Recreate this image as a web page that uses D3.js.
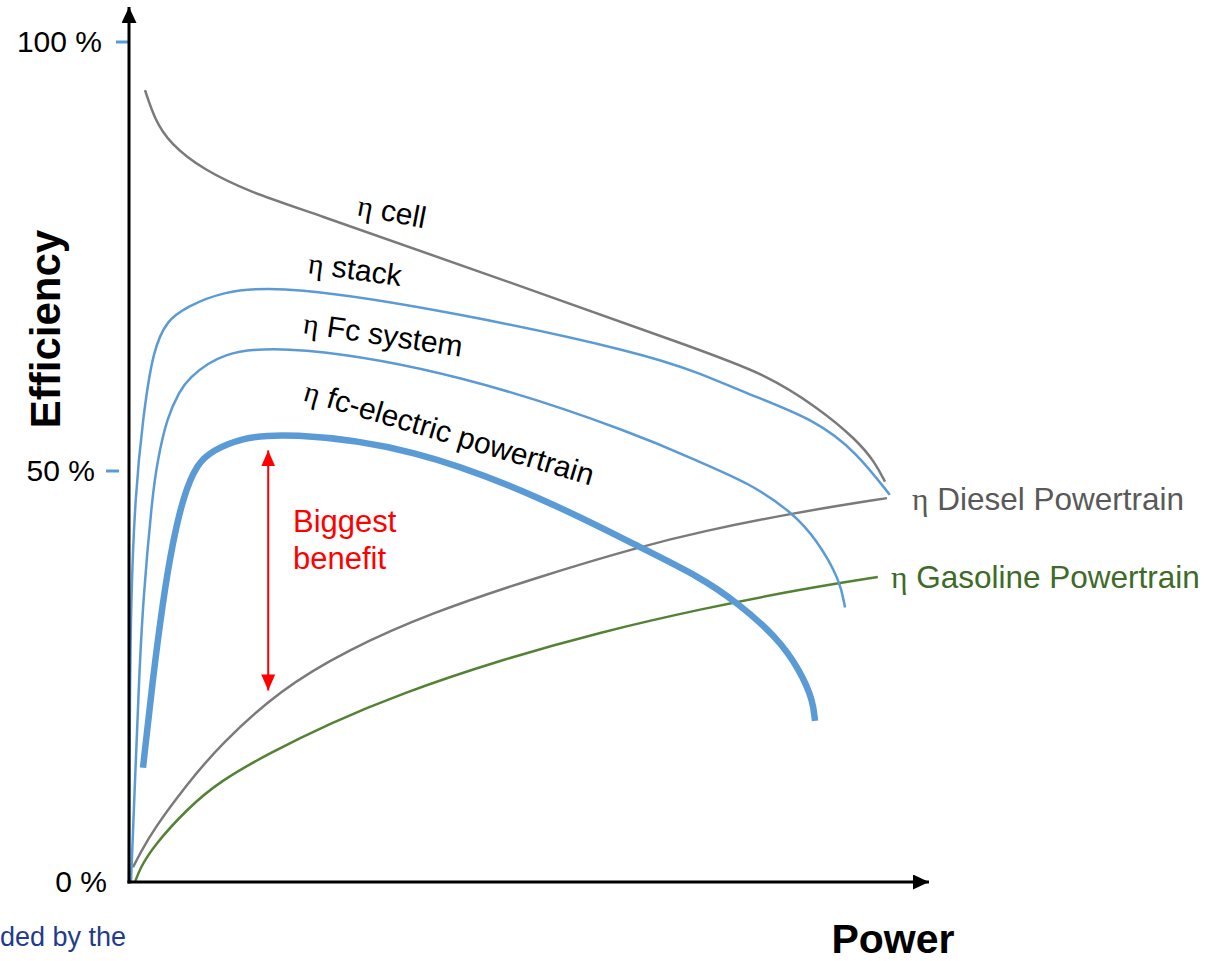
<!DOCTYPE html>
<html>
<head>
<meta charset="utf-8">
<script src="https://cdn.jsdelivr.net/npm/d3@7"></script>
<style>
  body { margin: 0; background: #fff; }
  text { font-family: "Liberation Sans", Arial, sans-serif; }
</style>
</head>
<body>
<div class="chart"></div>
<script>
// curves, [power (0-100), efficiency %]
var cell = [[2.0,94.4],[3.25,90.9],[5.1,88.2],[9.25,85.1],[15.5,82.4],[21,80.7],[46.4,72.4],[71.4,64.1],[79.25,61.4],[86,57.5],[91,53.6],[93.25,51.0],[94.5,48.7]];
var stack = [[0,0],[0.1,22.1],[0.25,34.3],[0.75,46.8],[1.75,56.3],[3,64.1],[4.75,67.6],[7.25,69.1],[11.4,70.9],[19.5,71.7],[41.4,68.4],[63.9,63.8],[71.4,61.4],[76.75,59.2],[86,55.9],[91,52.1],[95.1,47.1]];
var fcSystem = [[0.25,0],[0.75,12.3],[1.25,24.5],[1.75,34.3],[2.9,46.8],[3.5,50.9],[4.75,56.3],[6.4,59.4],[7.25,60.6],[11.4,63.9],[20.1,64.7],[41.4,61.4],[63.9,54.2],[71.4,51.0],[77.6,48.5],[83,44.9],[86,41.6],[88.9,36.7],[89.5,33.4]];
var fcElectric = [[1.75,13.9],[2.9,24.1],[4.25,34.3],[5.4,41.0],[6.75,46.8],[8.5,50.9],[10.5,52.4],[13.9,53.8],[19.5,54.5],[35.5,52.8],[52.25,46.5],[63.9,40.7],[71.4,37.1],[76,34.0],[81,29.8],[83.9,25.7],[85.5,22.1],[85.75,19.6]];
var diesel = [[0.5,1.8],[1.4,3.5],[3,6.3],[7.25,11.9],[11.4,16.7],[18.9,23.4],[27.25,28.2],[37.6,32.7],[51.4,37.2],[63.9,40.8],[71.4,42.6],[83,44.9],[94.75,46.7]];
var gasoline = [[0.75,0],[1.4,1.7],[3,4.3],[7.25,8.9],[11.4,12.3],[17.6,15.7],[25.1,19.3],[33.9,22.9],[46.4,27.0],[58.9,30.4],[71.4,33.2],[83.9,35.6],[93.6,37.1]];

var yTicks = [0, 50, 100];
var yTickLabels = ["0 %", "50 %", "100 %"];
var benefit = {x: 17.4, from: 23.3, to: 52.4};

var width = 1210, height = 961;

var svg = d3.select(".chart")
  .append("svg")
    .attr("width", width)
    .attr("height", height);

var x = d3.scaleLinear().domain([0, 100]).range([129, 929]);
// the drawing is not quite linear: 50 % sits lower than half way
var y = d3.scaleLinear().domain([0, 50, 100]).range([882, 471, 42]);

var blue = "#5b9bd5", grey = "#7a7a7a", green = "#548235";

var defs = svg.append("defs");
function arrowMarker(id, color, w, h) {
  defs.append("marker")
    .attr("id", id)
    .attr("viewBox", "0 0 " + w + " " + h)
    .attr("refX", w).attr("refY", h / 2)
    .attr("markerWidth", w).attr("markerHeight", h)
    .attr("markerUnits", "userSpaceOnUse")
    .attr("orient", "auto-start-reverse")
    .append("path")
      .attr("d", "M0,0L" + w + "," + (h / 2) + "L0," + h + "Z")
      .attr("fill", color);
}
arrowMarker("axisArrow", "#000", 16, 15);
arrowMarker("redArrow", "#ff0000", 16, 14);

// y axis (labels only, line drawn as an arrow)
var yAxis = svg.append("g")
  .attr("transform", "translate(" + x(0) + ",0)")
  .call(d3.axisLeft(y).tickValues(yTicks).tickSize(0).tickPadding(27)
    .tickFormat(function(d, i){ return yTickLabels[i]; }));
yAxis.select(".domain").remove();
yAxis.selectAll("text")
  .attr("font-size", 30)
  .attr("font-family", "Liberation Sans, Arial, sans-serif")
  .attr("fill", "#000")
  .attr("dx", function(d){ return d == 50 ? -7 : (d == 0 ? 5 : 0); });

// little blue tick marks
svg.append("line").attr("x1", x(0) - 13).attr("x2", x(0)).attr("y1", y(100)).attr("y2", y(100))
  .attr("stroke", blue).attr("stroke-width", 3);
svg.append("line").attr("x1", x(0) - 23).attr("x2", x(0) - 10).attr("y1", y(50)).attr("y2", y(50))
  .attr("stroke", blue).attr("stroke-width", 3);

var line = d3.line()
  .x(function(d){ return x(d[0]); })
  .y(function(d){ return y(d[1]); })
  .curve(d3.curveBasis);

var series = [
  {data: cell, color: grey, w: 2.5},
  {data: diesel, color: grey, w: 2.5},
  {data: gasoline, color: green, w: 2.5},
  {data: stack, color: blue, w: 2.5},
  {data: fcSystem, color: blue, w: 2.5},
  {data: fcElectric, color: blue, w: 6.5}
];

svg.append("g")
  .selectAll("path")
  .data(series)
  .join("path")
    .attr("d", function(d){ return line(d.data); })
    .attr("fill", "none")
    .attr("stroke", function(d){ return d.color; })
    .attr("stroke-width", function(d){ return d.w; });

// axes with arrows
svg.append("line")
  .attr("x1", x(0)).attr("y1", y(0) + 1.5).attr("x2", x(0)).attr("y2", 7)
  .attr("stroke", "#000").attr("stroke-width", 3)
  .attr("marker-end", "url(#axisArrow)");
svg.append("line")
  .attr("x1", x(0) - 1.5).attr("y1", y(0)).attr("x2", x(100)).attr("y2", y(0))
  .attr("stroke", "#000").attr("stroke-width", 3)
  .attr("marker-end", "url(#axisArrow)");

// biggest benefit arrow
svg.append("line")
  .attr("x1", x(benefit.x)).attr("x2", x(benefit.x))
  .attr("y1", y(benefit.from)).attr("y2", y(benefit.to))
  .attr("stroke", "#ff0000").attr("stroke-width", 2)
  .attr("marker-start", "url(#redArrow)")
  .attr("marker-end", "url(#redArrow)");

var red = svg.append("text").attr("fill", "#ff0000").attr("font-size", 31);
red.append("tspan").attr("x", 293).attr("y", 532).text("Biggest");
red.append("tspan").attr("x", 293).attr("y", 569).text("benefit");

// curve labels
function etaLabel(txt, tx, ty, rot, color, size) {
  var t = svg.append("text")
    .attr("transform", "translate(" + tx + "," + ty + ") rotate(" + rot + ")")
    .attr("font-size", size)
    .attr("fill", color);
  t.append("tspan").attr("font-family", "Liberation Serif, Times New Roman, serif").text("\u03b7");
  t.append("tspan").text(" " + txt);
}
etaLabel("cell", 356, 215, 11, "#000", 30);
etaLabel("stack", 307, 273, 8, "#000", 30);
etaLabel("Fc system", 302, 333, 8.5, "#000", 30);
etaLabel("fc-electric powertrain", 302, 400, 16.5, "#000", 30);
etaLabel("Diesel Powertrain", 912, 510, 0, "#595959", 31.5);
etaLabel("Gasoline Powertrain", 891, 588, 0, "#3e6b28", 31.5);

// axis titles
svg.append("text")
  .attr("transform", "translate(60,329) rotate(-90)")
  .attr("text-anchor", "middle")
  .attr("font-size", 42).attr("font-weight", "bold")
  .text("Efficiency");
svg.append("text")
  .attr("x", 893).attr("y", 953)
  .attr("text-anchor", "middle")
  .attr("font-size", 41).attr("font-weight", "bold")
  .text("Power");

// cut-off footer from the slide
svg.append("text")
  .attr("x", 0).attr("y", 946)
  .attr("font-size", 27).attr("fill", "#1f3c8c")
  .text("ded by the");
</script>
</body>
</html>
